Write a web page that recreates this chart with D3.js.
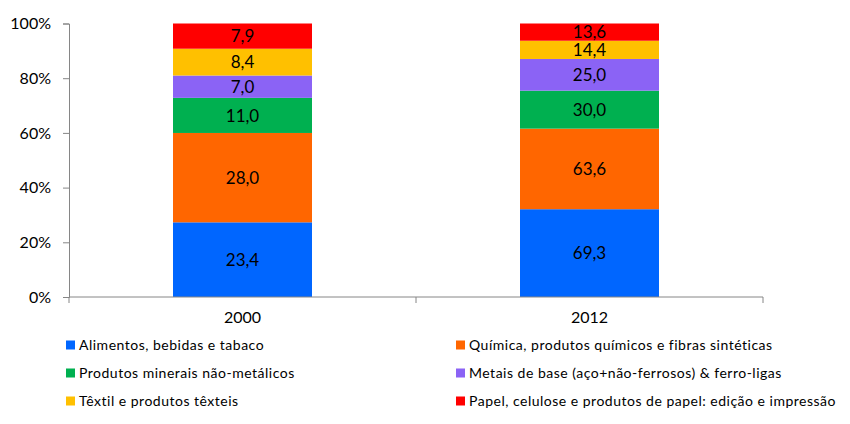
<!DOCTYPE html>
<html><head><meta charset="utf-8">
<script src="https://cdn.jsdelivr.net/npm/d3@7"></script>
<style>body{margin:0;background:#fff;} svg{display:block;}</style>
</head><body>
<svg id="chart" width="850" height="424"></svg>
<script>
const years = ["2000", "2012"];
const seriesNames = [
  "Alimentos, bebidas e tabaco",
  "Química, produtos químicos e fibras sintéticas",
  "Produtos minerais não-metálicos",
  "Metais de base (aço+não-ferrosos) & ferro-ligas",
  "Têxtil e produtos têxteis",
  "Papel, celulose e produtos de papel: edição e impressão"
];
const seriesColors = ["#0066FF", "#FF6600", "#00B050", "#8B63F5", "#FFC000", "#FF0000"];
const values2000 = [23.4, 28.0, 11.0, 7.0, 8.4, 7.9];
const values2012 = [69.3, 63.6, 30.0, 25.0, 14.4, 13.6];
const yTicks = [0, 0.2, 0.4, 0.6, 0.8, 1.0];

const font = "Lato, 'Open Sans', sans-serif";
const svg = d3.select("#chart");
const plotL = 69, plotR = 763, plotT = 23.5, plotB = 297;

const x = d3.scaleBand().domain(years).range([plotL, plotR]).paddingInner(0).paddingOuter(0);
const y = d3.scaleLinear().domain([0, 1]).range([plotB, plotT]);

const data = years.map((yr, i) => {
  const vals = i === 0 ? values2000 : values2012;
  const o = {year: yr};
  seriesNames.forEach((s, j) => o[s] = vals[j]);
  return o;
});
const stack = d3.stack().keys(seriesNames).offset(d3.stackOffsetExpand);
const stacked = stack(data);

const barW = 139;
const g = svg.append("g");
stacked.forEach((layer, j) => {
  layer.forEach((d) => {
    const cx = x(d.data.year) + x.bandwidth() / 2;
    g.append("rect")
      .attr("x", cx - barW / 2)
      .attr("y", y(d[1]))
      .attr("width", barW)
      .attr("height", y(d[0]) - y(d[1]))
      .attr("fill", seriesColors[j]);
    g.append("text")
      .attr("x", cx)
      .attr("y", (y(d[0]) + y(d[1])) / 2)
      .attr("dy", "0.36em")
      .attr("text-anchor", "middle")
      .attr("font-family", font)
      .attr("font-size", 17)
      .attr("fill", "#000")
      .text(d3.format(".1f")(d.data[layer.key]).replace(".", ","));
  });
});

// Y axis
const yAxis = d3.axisLeft(y).tickValues(yTicks).tickFormat(d3.format(".0%")).tickSize(6).tickPadding(12);
const ya = svg.append("g").attr("transform", `translate(${plotL},0)`).call(yAxis);
ya.select(".domain").attr("stroke", "#868686");
ya.selectAll(".tick line").attr("stroke", "#868686");
ya.selectAll("text").attr("font-family", font).attr("font-size", 16).attr("fill", "#000");

// X axis
const xa = svg.append("g").attr("transform", `translate(0,${plotB})`);
xa.append("line").attr("x1", plotL).attr("x2", plotR).attr("y1", 0).attr("y2", 0).attr("stroke", "#868686");
const bounds = [plotL, plotL + x.bandwidth(), plotR];
bounds.forEach(b => xa.append("line").attr("x1", b).attr("x2", b).attr("y1", 0).attr("y2", 6).attr("stroke", "#868686"));
years.forEach(yr => {
  xa.append("text")
    .attr("x", x(yr) + x.bandwidth() / 2)
    .attr("y", 26)
    .attr("text-anchor", "middle")
    .attr("font-family", font)
    .attr("font-size", 16)
    .attr("fill", "#000")
    .text(yr);
});

// Legend
const legX = [66, 456], legY = [345, 373, 401];
seriesNames.forEach((s, j) => {
  const col = j % 2, row = Math.floor(j / 2);
  const lg = svg.append("g").attr("transform", `translate(${legX[col]},${legY[row]})`);
  lg.append("rect").attr("x", 0).attr("y", -4.5).attr("width", 9).attr("height", 9).attr("fill", seriesColors[j]);
  lg.append("text").attr("x", 13).attr("y", 0).attr("dy", "0.35em")
    .attr("font-family", font).attr("font-size", 14).attr("letter-spacing", 0.5)
    .attr("fill", "#000").text(s);
});
</script>
</body></html>
